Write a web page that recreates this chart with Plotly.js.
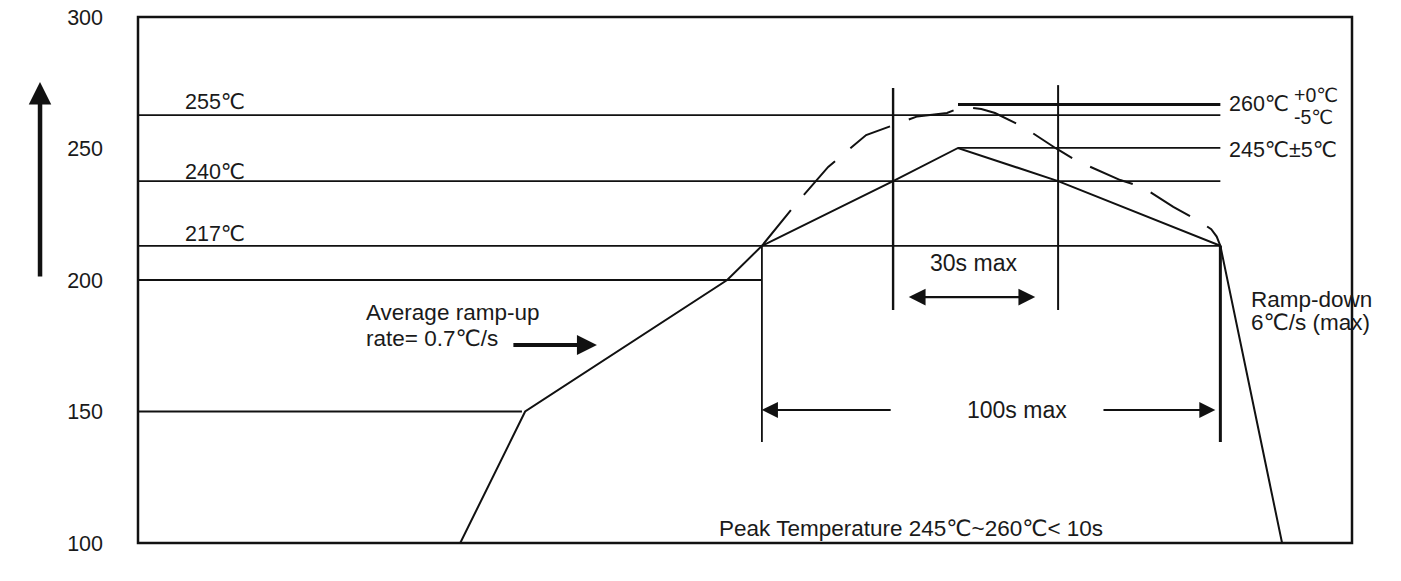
<!DOCTYPE html>
<html>
<head>
<meta charset="utf-8">
<script src="https://cdn.plot.ly/plotly-3.0.1.min.js"></script>
<style>html,body{margin:0;padding:0;background:#fff;}#chart{width:1401px;height:581px;}</style>
</head>
<body>
<div id="chart"></div>
<script>
// ---- Data (time in s, temperature in ℃) ----
var yTicks = [100, 150, 200, 250, 300];

// Solid reflow profile
var profileTime = [70.5, 84.7, 128.9, 136.5, 165.2, 179.4, 201.3, 236.8, 250.3];
var profileTemp = [100, 150, 200, 213, 237.6, 250.2, 237.6, 213, 100];

// Dashed upper-limit profile
var upperTime = [136.5, 143.5, 151.0, 159.3, 170.5, 177.0, 179.5, 182.0, 184.5, 187.5, 193.7, 200.7, 205.5, 214.9, 219.7, 226.5, 232.4, 234.8, 236.0, 236.8];
var upperTemp = [213, 228, 243, 255.1, 262.2, 263.5, 265.2, 265.6, 265.0, 263.5, 258.2, 250.2, 245.2, 238.0, 235.4, 227.8, 222.1, 219.3, 216.5, 213];

// Horizontal reference levels
var levelTemp  = [266.7, 262.7, 250.2, 237.6, 213, 200, 150];
var levelStart = [179.4, 0, 179.4, 0, 0, 0, 0];
var levelEnd   = [236.8, 236.8, 236.8, 236.8, 236.8, 136.5, 84.0];

// Vertical marker lines
var markTime = [136.5, 165.2, 201.3, 236.8];
var markTop  = [213, 273.0, 274.1, 213];
var markBot  = [138.4, 188.6, 188.6, 138.4];

// Text labels
var leftLabels = ["255℃", "240℃", "217℃"];
var leftLabelTemp = [267.7, 241.1, 217.5];
var rightLabels = ["260℃", "245℃±5℃"];
var rightLabelTemp = [266.9, 249.4];
var tolLabels = ["+0℃", "-5℃"];
var tolLabelTemp = [270.3, 262.0];
var rampUpLines = ["Average ramp-up", "rate= 0.7℃/s"];
var rampUpTemp = [187.5, 177.6];
var rampDownLines = ["Ramp-down", "6℃/s (max)"];
var rampDownTemp = [192.4, 183.7];
var spanLabels = ["30s max", "100s max"];
var spanLabelTime = [182.8, 192.3];
var spanLabelTemp = [206.5, 150.6];
var peakLabel = "Peak Temperature 245℃~260℃< 10s";

// ---- Styles ----
var FONT = "Liberation Sans, Arial, DejaVu Sans, sans-serif";
var TXT = "#1a1a1a";
var levelWidth = [3, 1.8, 1.8, 1.8, 1.8, 1.8, 2.2];
var markWidth = [1.8, 2.4, 2.0, 3.0];

var traces = [];
for (var i = 0; i < levelTemp.length; i++) {
  traces.push({type: "scatter", mode: "lines", x: [levelStart[i], levelEnd[i]], y: [levelTemp[i], levelTemp[i]],
    line: {color: "#111", width: levelWidth[i]}, hoverinfo: "skip", showlegend: false});
}
for (var j = 0; j < markTime.length; j++) {
  traces.push({type: "scatter", mode: "lines", x: [markTime[j], markTime[j]], y: [markTop[j], markBot[j]],
    line: {color: "#111", width: markWidth[j]}, hoverinfo: "skip", showlegend: false});
}
traces.push({type: "scatter", mode: "lines", x: upperTime, y: upperTemp,
  line: {color: "#111", width: 2, dash: "46px,20px"}, hoverinfo: "skip", showlegend: false});
traces.push({type: "scatter", mode: "lines", x: profileTime, y: profileTemp,
  line: {color: "#111", width: 2}, hoverinfo: "skip", showlegend: false});

var ann = [];
function txt(t, x, y, size, xanchor) {
  ann.push({text: t, x: x, y: y, xref: "x", yref: "y", showarrow: false, xanchor: xanchor || "left", yanchor: "middle",
    font: {family: FONT, size: size, color: TXT}});
}
for (var a = 0; a < leftLabels.length; a++) txt(leftLabels[a], 9.8, leftLabelTemp[a], 21.5);
for (var b = 0; b < rightLabels.length; b++) txt(rightLabels[b], 238.3, rightLabelTemp[b], 21.5);
for (var c = 0; c < tolLabels.length; c++) txt(tolLabels[c], 252.4, tolLabelTemp[c], 19.5);
for (var d = 0; d < rampUpLines.length; d++) txt(rampUpLines[d], 49.5, rampUpTemp[d], 22.5);
for (var e = 0; e < rampDownLines.length; e++) txt(rampDownLines[e], 243.1, rampDownTemp[e], 22.5);
for (var f = 0; f < spanLabels.length; f++) txt(spanLabels[f], spanLabelTime[f], spanLabelTemp[f], 23, "center");
txt(peakLabel, 126.7, 105.7, 22.5);

function arrow(hx, hy, tx, ty, w, s, side) {
  ann.push({x: hx, y: hy, ax: tx, ay: ty, xref: "x", yref: "y", axref: "x", ayref: "y", text: "",
    showarrow: true, arrowhead: 2, startarrowhead: 2, arrowside: side || "end", arrowwidth: w, arrowsize: s, startarrowsize: s,
    arrowcolor: "#111"});
}
arrow(136.5, 150.6, 165.0, 150.6, 2, 1.6);
arrow(235.7, 150.6, 210.9, 150.6, 2, 1.6);
arrow(196.3, 193.5, 168.3, 193.5, 2.4, 1.4, "end+start");
arrow(100.4, 175.3, 81.8, 175.3, 4, 1.0);
// Big vertical temperature arrow left of axis
ann.push({x: -0.0807, y: 275.3, xref: "paper", yref: "y", ax: 0, ay: 200.8, axref: "pixel", ayref: "y", text: "",
  showarrow: true, arrowhead: 2, arrowwidth: 4.5, arrowsize: 1.0, arrowcolor: "#111"});

var layout = {
  width: 1401, height: 581,
  margin: {l: 138, r: 49, t: 17, b: 38, pad: 0},
  paper_bgcolor: "#fff", plot_bgcolor: "#fff",
  showlegend: false,
  xaxis: {range: [0, 265.6], showgrid: false, zeroline: false, showticklabels: false, ticks: "", showline: false, fixedrange: true},
  yaxis: {range: [100, 300], tickvals: yTicks, ticktext: yTicks.map(String), showgrid: false, zeroline: false, ticks: "",
    showline: false, ticklabelstandoff: 34, tickfont: {family: FONT, size: 21.5, color: TXT}, fixedrange: true},
  shapes: [{type: "rect", xref: "paper", yref: "paper", x0: 0, x1: 1, y0: 0, y1: 1, line: {color: "#111", width: 2.5}}],
  annotations: ann
};
Plotly.newPlot("chart", traces, layout, {displayModeBar: false, staticPlot: true});
</script>
</body>
</html>
